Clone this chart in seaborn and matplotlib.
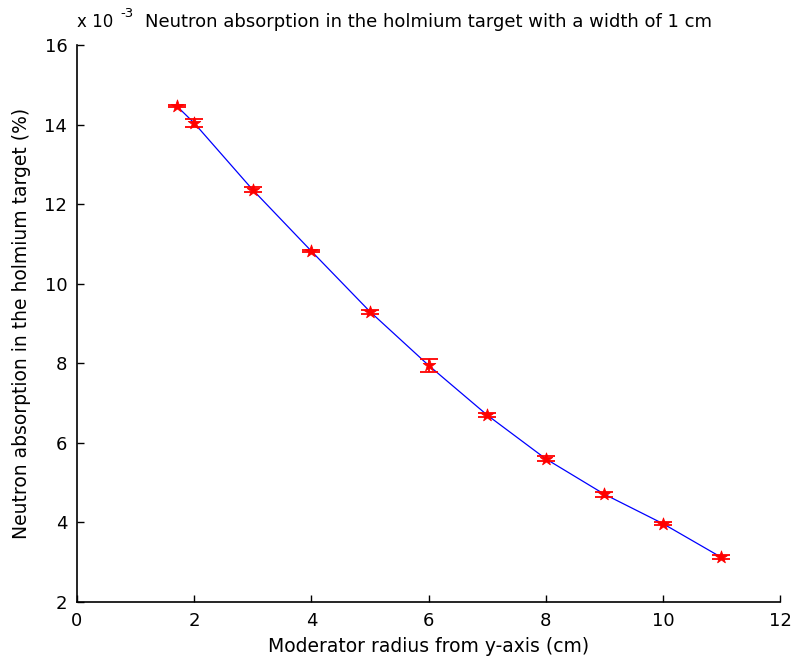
import matplotlib
matplotlib.use("Agg")
import matplotlib.pyplot as plt
import seaborn as sns
import pandas as pd

# Moderator radius (cm) and neutron absorption (x 1e-3 %) with uncertainties
radius = [1.7, 2, 3, 4, 5, 6, 7, 8, 9, 10, 11]
absorption = [14.47, 14.04, 12.36, 10.82, 9.30, 7.95, 6.70, 5.60, 4.71, 3.97, 3.12]
error = [0.03, 0.10, 0.06, 0.03, 0.05, 0.17, 0.06, 0.06, 0.06, 0.03, 0.05]

x_ticks = [0, 2, 4, 6, 8, 10, 12]
y_ticks = [2, 4, 6, 8, 10, 12, 14, 16]

df = pd.DataFrame({"radius": radius, "absorption": absorption, "error": error})

sns.set_style("ticks")
plt.rcParams["font.family"] = ["DejaVu Sans"]
plt.rcParams["text.color"] = "black"
plt.rcParams["axes.labelcolor"] = "black"
plt.rcParams["xtick.direction"] = "in"
plt.rcParams["ytick.direction"] = "in"

fig = plt.figure(figsize=(7.97, 6.64), dpi=100)
ax = fig.add_axes([0.0966, 0.0934, 0.8821, 0.8388])

sns.lineplot(data=df, x="radius", y="absorption", color="#0000ff", linewidth=0.9, ax=ax)
ax.errorbar(df["radius"], df["absorption"], yerr=df["error"], fmt="none",
            ecolor="red", elinewidth=1.3, capsize=6.5, capthick=1.3, zorder=3)
sns.scatterplot(data=df, x="radius", y="absorption", marker="*", color="red",
                s=90, edgecolor="red", linewidth=0.6, ax=ax, zorder=4)

ax.set_xlim(0, 12)
ax.set_ylim(2, 16)
ax.set_xticks(x_ticks)
ax.set_yticks(y_ticks)
ax.tick_params(labelsize=13, length=5, width=1, colors="black", pad=7)
for side in ("top", "right"):
    ax.spines[side].set_visible(False)
for side in ("left", "bottom"):
    ax.spines[side].set_linewidth(1.2)
    ax.spines[side].set_color("black")

ax.set_xlabel("Moderator radius from y-axis (cm)", fontsize=13.5, labelpad=5)
ax.set_ylabel("Neutron absorption in the holmium target (%)", fontsize=13.5, labelpad=10)
ax.set_title("Neutron absorption in the holmium target with a width of 1 cm",
             fontsize=13, pad=13)

# axis multiplier shown above the y axis
ax.text(0.0, 1.025, "x 10", transform=ax.transAxes, fontsize=12,
        ha="left", va="bottom")
ax.annotate("-3", xy=(0.0, 1.025), xycoords="axes fraction", xytext=(31, 8),
            textcoords="offset points", fontsize=9.5, ha="left", va="bottom")

fig.savefig("out.png", dpi=100)
